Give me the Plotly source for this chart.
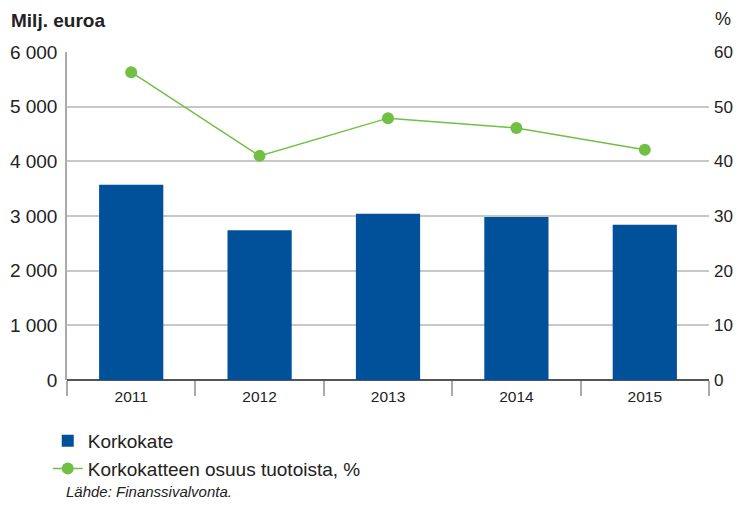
import plotly.graph_objects as go

years = ["2011", "2012", "2013", "2014", "2015"]
korkokate = [3570, 2740, 3040, 2980, 2840]          # Milj. euroa
osuus = [56.3, 41.0, 47.9, 46.1, 42.1]              # %

left_ticks = [0, 1000, 2000, 3000, 4000, 5000, 6000]
left_labels = ["0", "1 000", "2 000", "3 000", "4 000", "5 000", "6 000"]
right_ticks = [0, 10, 20, 30, 40, 50, 60]

FONT = "Liberation Sans, Arial, sans-serif"
BLUE = "#00509a"
GREEN = "#72c043"

fig = go.Figure()

fig.add_trace(go.Bar(
    x=years, y=korkokate, name="Korkokate",
    marker=dict(color=BLUE, line=dict(width=0)),
))

fig.add_trace(go.Scatter(
    x=years, y=osuus, name="Korkokatteen osuus tuotoista, %",
    mode="lines+markers", yaxis="y2",
    line=dict(color=GREEN, width=1.5),
    marker=dict(color=GREEN, size=12),
))

# page has an 8px body margin, so the figure is a bit smaller than the window
fig.update_layout(
    width=726, height=491,
    margin=dict(l=59, r=25, t=44, b=119, autoexpand=False),
    plot_bgcolor="white", paper_bgcolor="white",
    font=dict(family=FONT, size=16, color="#222"),
    bargap=0.5,
    showlegend=True,
    legend=dict(
        x=-0.03, y=-0.128, xanchor="left", yanchor="top",
        orientation="v", traceorder="normal",
        font=dict(family=FONT, size=19, color="#222"),
        itemwidth=30, tracegroupgap=0, bgcolor="rgba(0,0,0,0)",
    ),
    xaxis=dict(
        type="category", tickson="boundaries", ticks="outside",
        ticklen=15, tickcolor="#aaa", tickwidth=1.5,
        showline=False, showgrid=False, automargin=False,
        tickfont=dict(size=15.5), ticklabelstandoff=5,
    ),
    yaxis=dict(
        range=[0, 6000], tickvals=left_ticks, ticktext=left_labels,
        showgrid=True, gridcolor="#c8c8c8", gridwidth=1.5,
        zeroline=True, zerolinecolor="#555", zerolinewidth=1.5,
        showline=True, linecolor="#aaa", linewidth=1.5,
        ticks="", tickfont=dict(size=19), ticklabelstandoff=4,
        automargin=False,
    ),
    yaxis2=dict(
        range=[0, 60], tickvals=right_ticks, overlaying="y", side="right",
        showgrid=False, zeroline=False, showline=False,
        ticks="", tickfont=dict(size=17), ticklabelstandoff=4,
        automargin=False,
    ),
    annotations=[
        dict(text="<b>Milj. euroa</b>", xref="paper", yref="paper",
             x=-0.09, y=1.0, yshift=32, xanchor="left", yanchor="middle",
             showarrow=False,
             font=dict(family=FONT, size=19, color="#222")),
        dict(text="%", xref="paper", yref="paper",
             x=1.0, y=1.0, xshift=4, yshift=33, xanchor="left", yanchor="middle",
             showarrow=False,
             font=dict(family=FONT, size=18, color="#222")),
        dict(text="<i>Lähde: Finanssivalvonta.</i>", xref="paper", yref="paper",
             x=-0.004, y=0, yshift=-111, xanchor="left", yanchor="middle",
             showarrow=False,
             font=dict(family=FONT, size=15, color="#222")),
    ],
)

fig.write_html("out.html")
